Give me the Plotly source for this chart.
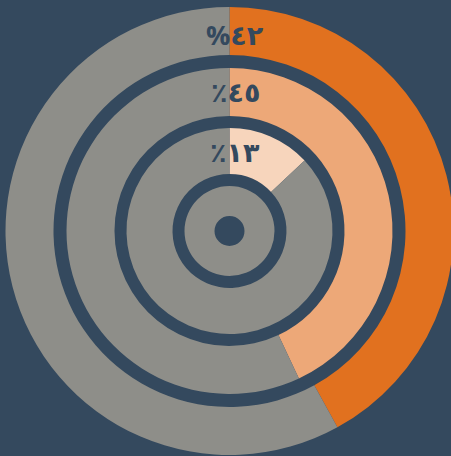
import plotly.graph_objects as go

# Data
ring_names = ["outer", "middle", "inner"]
ring_values = [42, 43, 13]          # share of each ring (read from arcs)
ring_labels = ["%٤٢", "٪٤٥", "٪١٣"]  # labels as printed
ring_colors = ["#e1711f", "#eda878", "#f7d5bc"]
rest_color = "#8e8e89"
bg = "#34495e"

W, H = 460, 456
cx, cy = 229.5, 231.0   # centre in px (from top)

# ring geometry in px: (outer radius, inner radius)
geom = [(224, 176), (163, 115), (103, 57)]

def dom(r):
    yc = H - cy
    return dict(x=[max(0, (cx - r) / W), min(1, (cx + r) / W)],
                y=[max(0, (yc - r) / H), min(1, (yc + r) / H)])

fig = go.Figure()
for (ro, ri), v, c in zip(geom, ring_values, ring_colors):
    fig.add_trace(go.Pie(
        values=[v, 100 - v], labels=["a", "b"], sort=False, direction="clockwise",
        rotation=0, hole=ri / ro, domain=dom(ro),
        marker=dict(colors=[c, rest_color], line=dict(width=0)),
        textinfo="none", hoverinfo="skip", showlegend=False,
    ))

# centre disk
fig.add_trace(go.Pie(
    values=[100], labels=["c"], hole=15 / 45, domain=dom(45),
    marker=dict(colors=[rest_color], line=dict(width=0)),
    textinfo="none", hoverinfo="skip", showlegend=False,
))

label_y = [34, 92, 152]
for t, y in zip(ring_labels, label_y):
    fig.add_annotation(x=235 / W, y=1 - y / H, xref="paper", yref="paper",
                       text="<b>" + t + "</b>", showarrow=False,
                       font=dict(family="Open Sans, DejaVu Sans", size=27, color=bg),
                       xanchor="center", yanchor="middle")

fig.update_layout(width=W, height=H, margin=dict(l=0, r=0, t=0, b=0),
                  paper_bgcolor=bg, plot_bgcolor=bg)
fig.write_html("out.html", config={"displayModeBar": False}, post_script=(
    "document.body.style.margin='0';"
    "document.body.style.overflow='hidden';"
    "document.documentElement.style.overflow='hidden';"
    "document.body.style.background='" + bg + "';"))
